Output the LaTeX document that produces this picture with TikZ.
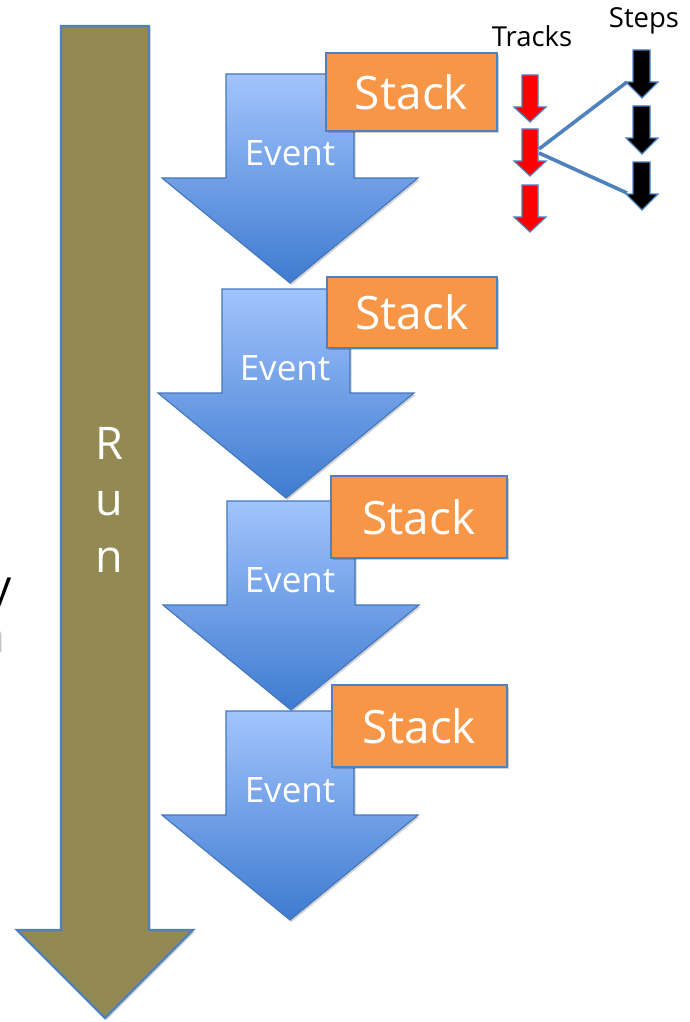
\documentclass[tikz,border=0pt]{standalone}
\usepackage{fontspec}
\setmainfont{Open Sans}
\usetikzlibrary{shadows}
\definecolor{runfill}{RGB}{147,137,83}
\definecolor{outl}{HTML}{4F81BD}
\definecolor{evline}{HTML}{4377BA}
\definecolor{stackfill}{HTML}{F79646}
\definecolor{evtop}{RGB}{162,196,253}
\definecolor{evbot}{RGB}{62,123,208}
\definecolor{redarr}{RGB}{255,0,0}
\tikzset{
  shad/.style={drop shadow={shadow xshift=1.5pt, shadow yshift=-2pt, opacity=0.18, fill=black}},
  runarrow/.style={fill=runfill, draw=outl, line width=2.2pt, line join=miter, shad},
  evarrow/.style={top color=evtop, bottom color=evbot, draw=evline, line width=1.1pt, line join=miter, shad},
  stackbox/.style={rectangle, fill=stackfill, draw=outl, line width=1.2pt, inner sep=0pt, text=white,
    font=\fontsize{46}{54}\selectfont, shad},
  evlabel/.style={text=white, inner sep=0pt, font=\fontsize{35}{42}\selectfont},
  smalllabel/.style={text=black, inner sep=0pt, font=\fontsize{27.5}{33}\selectfont},
  trackarr/.style={fill=redarr, draw=outl, line width=1.2pt, line join=miter},
  steparr/.style={fill=black, draw=outl, line width=1.2pt, line join=miter},
  linkline/.style={draw=outl, line width=3.6pt},
  pics/evshape/.style={code={
    \path[evarrow] (0,0) -- (128,0) -- (128,104) -- (192,104) -- (64,209) -- (-64,104) -- (0,104) -- cycle;
  }},
  pics/trk/.style={code={
    \path[trackarr] (0,0) -- (16,0) -- (16,32) -- (24,32) -- (8,47) -- (-8,32) -- (0,32) -- cycle;
  }},
  pics/stp/.style={code={
    \path[steparr] (0,0) -- (17,0) -- (17,32) -- (25,32) -- (9,48) -- (-7,32) -- (0,32) -- cycle;
  }}
}
\begin{document}
\begin{tikzpicture}[x=1pt,y=-1pt]
\useasboundingbox (0,0) rectangle (689,1022);
\clip (0,0) rectangle (689,1022);
\fill[white] (0,0) rectangle (689,1022);

% cut-off text at the left edge
\node[anchor=base east, inner sep=0pt, font=\fontsize{44}{52}\selectfont] (ycut) at (12,601) {y};
\node[anchor=base east, inner sep=0pt, text=black!22, font=\fontsize{44}{52}\selectfont] (ncut) at (6,652) {n};

% Run arrow
\path[runarrow] (61,26) -- (149,26) -- (149,930) -- (193,930) -- (105,1018) -- (17,930) -- (61,930) -- cycle;
\node[anchor=north, align=center, inner sep=0pt, text=white, font=\fontsize{45}{56.5}\selectfont] (run) at (109,427) {R\\u\\n};

% Events and stacks
\pic at (226,74) {evshape};
\node[evlabel, anchor=base] (ev1) at (290,165) {Event};
\node[stackbox, minimum width=171pt, minimum height=78pt] (stack1) at (411.5,92) {Stack};

\pic at (222,289) {evshape};
\node[evlabel, anchor=base] (ev2) at (285,380) {Event};
\node[stackbox, minimum width=170pt, minimum height=71pt] (stack2) at (412,312.5) {Stack};

\pic at (227,501) {evshape};
\node[evlabel, anchor=base] (ev3) at (290,592) {Event};
\node[stackbox, minimum width=176pt, minimum height=82pt] (stack3) at (419,517) {Stack};

\pic at (226,711) {evshape};
\node[evlabel, anchor=base] (ev4) at (290,802) {Event};
\node[stackbox, minimum width=175pt, minimum height=82pt] (stack4) at (419.5,726) {Stack};

% Tracks and steps
\node[smalllabel, anchor=base] (tracks) at (532,47) {Tracks};
\node[smalllabel, anchor=base] (steps) at (644,28) {Steps};

\pic at (522,75) {trk};
\pic at (522,129) {trk};
\pic at (522,185) {trk};
\pic at (633,50) {stp};
\pic at (633,106) {stp};
\pic at (633,162) {stp};

\coordinate (t2a) at (539,149);
\coordinate (t2b) at (539,153);
\coordinate (s1) at (627,82);
\coordinate (s3) at (627,193);
\draw[linkline] (t2a) -- (s1);
\draw[linkline] (t2b) -- (s3);
\end{tikzpicture}
\end{document}
